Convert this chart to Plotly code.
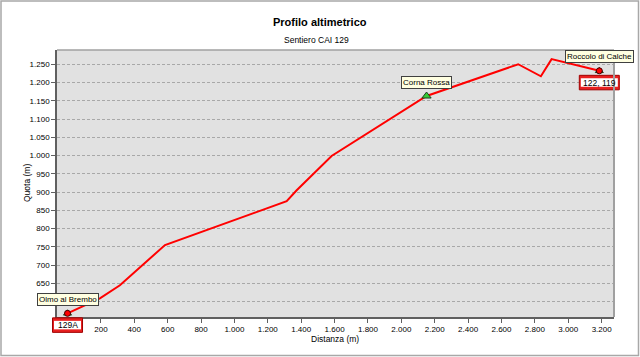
import plotly.graph_objects as go

# ---- data ----
distanza = [0, 194, 314, 584, 1313, 1373, 1582, 2151, 2700, 2836, 2900, 3186]
quota = [568, 609, 645, 755, 875, 905, 999, 1163, 1250, 1217, 1264, 1232]

waypoint_names = ["Olmo al Brembo", "Corna Rossa", "Roccolo di Calche"]
waypoint_dist = [0, 2151, 3186]
waypoint_quota = [568, 1163, 1232]

sign_labels = ["129A", "122, 119"]
sign_dist = [0, 3186]
sign_quota = [568, 1232]

x_tickvals = list(range(0, 3201, 200))
x_ticktext = [""] + [f"{v:,}".replace(",", ".") for v in x_tickvals[1:]]
y_tickvals = list(range(600, 1251, 50))
y_ticktext = [""] + [f"{v:,}".replace(",", ".") for v in y_tickvals[1:]]

X_RANGE = [-63, 3274]
Y_RANGE = [558, 1289]

W, H = 640, 357
L, R, T, B = 57, 26, 50, 40
PW, PH = W - L - R, H - T - B


def px(xp):
    return (xp - L) / PW


def py(yp):
    return (H - B - yp) / PH


def dx(v):  # data x -> paper
    return (v - X_RANGE[0]) / (X_RANGE[1] - X_RANGE[0])


def dy(v):  # data y -> paper
    return (v - Y_RANGE[0]) / (Y_RANGE[1] - Y_RANGE[0])


FONT = "Liberation Sans, Arial, sans-serif"

fig = go.Figure()

fig.add_trace(go.Scatter(x=distanza, y=quota, mode="lines",
                         line=dict(color="#FF0000", width=2), hoverinfo="skip"))

fig.add_trace(go.Scatter(x=[waypoint_dist[0], waypoint_dist[2]],
                         y=[waypoint_quota[0], waypoint_quota[2]],
                         mode="markers", cliponaxis=False,
                         marker=dict(symbol="triangle-up", size=7, color="#22AA22",
                                     line=dict(color="#204020", width=1)),
                         hoverinfo="skip"))
fig.add_trace(go.Scatter(x=[waypoint_dist[1]], y=[waypoint_quota[1]], mode="markers",
                         cliponaxis=False,
                         marker=dict(symbol="triangle-up", size=8, color="#33CC33",
                                     line=dict(color="#204020", width=1)),
                         hoverinfo="skip"))
fig.add_trace(go.Scatter(x=[waypoint_dist[0], waypoint_dist[2]],
                         y=[waypoint_quota[0], waypoint_quota[2]],
                         mode="markers", cliponaxis=False,
                         marker=dict(symbol="circle", size=6, color="#FF0000",
                                     line=dict(color="#400000", width=1)),
                         hoverinfo="skip"))

shapes = []
annotations = []

# waypoint labels
for name, d, q in zip(waypoint_names, waypoint_dist, waypoint_quota):
    annotations.append(dict(x=d, y=q, xref="x", yref="y", text=name, showarrow=False,
                            xanchor="center", yanchor="middle",
                            yshift=14, font=dict(family=FONT, size=8, color="#000000"),
                            bgcolor="#FFFFE1", bordercolor="#404040", borderwidth=1,
                            borderpad=1))

# trail signs (red-white-red), paper-referenced so they are not clipped
sign_widths = [30, 40]
for lab, d, q, w in zip(sign_labels, sign_dist, sign_quota, sign_widths):
    shapes.append(dict(type="rect", xref="paper", yref="paper", xsizemode="pixel", ysizemode="pixel",
                       xanchor=dx(d), yanchor=dy(q), x0=-w / 2, x1=w / 2, y0=-4.5, y1=-19,
                       fillcolor="#E82020", line=dict(color="#A00000", width=1), layer="above"))
    shapes.append(dict(type="rect", xref="paper", yref="paper", xsizemode="pixel", ysizemode="pixel",
                       xanchor=dx(d), yanchor=dy(q), x0=-w / 2 + 1.5, x1=w / 2 - 1.5, y0=-7.5, y1=-16,
                       fillcolor="#FFFFFF", line=dict(width=0), layer="above"))
    annotations.append(dict(x=d, y=q, xref="x", yref="y", text=lab, showarrow=False,
                            xanchor="center", yanchor="middle",
                            yshift=-11.7, font=dict(family=FONT, size=8.5, color="#000000")))

# outer frame
shapes.append(dict(type="rect", xref="paper", yref="paper",
                   x0=px(1), x1=px(638.5), y0=py(355.5), y1=py(1),
                   line=dict(color="#A8A8A8", width=1.5), fillcolor="rgba(0,0,0,0)", layer="below"))
# top and right plot border
shapes.append(dict(type="line", xref="paper", yref="paper", x0=0, x1=1, y0=1, y1=1,
                   line=dict(color="#A0A0A0", width=1.5)))
shapes.append(dict(type="line", xref="paper", yref="paper", x0=1, x1=1, y0=0, y1=1,
                   line=dict(color="#A0A0A0", width=2)))

# titles
annotations.append(dict(x=px(320), y=py(21.5), xref="paper", yref="paper",
                        xanchor="center", yanchor="middle",
                        text="<b>Profilo altimetrico</b>", showarrow=False,
                        font=dict(family=FONT, size=11, color="#000000")))
annotations.append(dict(x=px(316), y=py(39.5), xref="paper", yref="paper",
                        xanchor="center", yanchor="middle",
                        text="Sentiero CAI 129", showarrow=False,
                        font=dict(family=FONT, size=8.5, color="#000000")))
annotations.append(dict(x=px(335), y=py(339), xref="paper", yref="paper",
                        xanchor="center", yanchor="middle",
                        text="Distanza (m)", showarrow=False,
                        font=dict(family=FONT, size=8.5, color="#000000")))
annotations.append(dict(x=px(27), y=py(183), xref="paper", yref="paper",
                        xanchor="center", yanchor="middle",
                        text="Quota (m)", showarrow=False, textangle=-90,
                        font=dict(family=FONT, size=8.5, color="#000000")))

fig.update_layout(
    width=W, height=H,
    margin=dict(l=L, r=R, t=T, b=B, pad=0),
    paper_bgcolor="#FFFFFF",
    plot_bgcolor="#E1E1E1",
    showlegend=False,
    shapes=shapes,
    annotations=annotations,
    font=dict(family=FONT, size=8, color="#000000"),
)

fig.update_xaxes(range=X_RANGE, tickvals=x_tickvals, ticktext=x_ticktext,
                 showgrid=False, zeroline=False, showline=True, linecolor="#606060", linewidth=1.5,
                 ticks="outside", ticklen=4, tickcolor="#606060",
                 tickfont=dict(family=FONT, size=8, color="#000000"))
fig.update_yaxes(range=Y_RANGE, tickvals=y_tickvals, ticktext=y_ticktext,
                 showgrid=True, gridcolor="#A8A8A8", gridwidth=1, griddash="3px,2px",
                 zeroline=False, showline=True, linecolor="#606060", linewidth=1.5,
                 ticks="outside", ticklen=4, tickcolor="#606060",
                 tickfont=dict(family=FONT, size=8, color="#000000"))

fig.write_html("out.html")
